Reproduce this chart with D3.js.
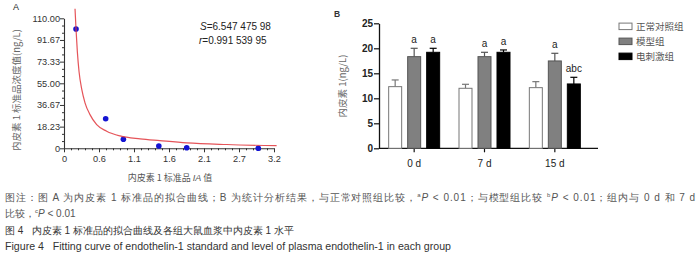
<!DOCTYPE html>
<html><head><meta charset="utf-8">
<script src="https://cdn.jsdelivr.net/npm/d3@7"></script>
<style>
body{margin:0;background:#fff;}
svg{display:block;}
text{font-family:"Liberation Sans",Arial,sans-serif;}
.cjk{font-family:"Noto Sans CJK SC","Liberation Sans",sans-serif;}
</style></head>
<body>
<svg id="c" width="700" height="258"></svg>
<script>
// ---------- Panel A data ----------
const stdX = [0.183, 0.635, 0.905, 1.445, 1.87, 2.96];
const stdY = [100.9, 25, 7.7, 2.0, 0.5, 0];
const fitX = [0.168, 0.183, 0.203, 0.229, 0.27, 0.32, 0.396, 0.498, 0.65, 0.854, 1.16, 1.46, 1.87, 2.48, 3.24];
const fitY = [118, 101, 82, 65, 50, 38.5, 28.5, 20, 14.5, 10.5, 8, 6.5, 4.6, 3.2, 2.2];
const aYTickLabels = ["0", "18.23", "36.67", "55.00", "73.33", "91.67", "110.00"];
const aXTickLabels = ["0", "0.6", "1.1", "1.6", "2.1", "2.7", "3.2"];
// ---------- Panel B data ----------
const days = ["0 d", "7 d", "15 d"];
const groups = ["正常对照组", "模型组", "电刺激组"];
const normalMean = [12.33, 12.0, 12.13];
const normalErr = [1.34, 0.8, 1.2];
const modelMean = [18.33, 18.33, 17.47];
const modelErr = [1.67, 0.87, 1.53];
const stimMean = [19.2, 19.2, 12.87];
const stimErr = [0.8, 0.47, 1.33];
const sigLabels = [["", "a", "a"], ["", "a", "a"], ["", "a", "abc"]];
const bYTicks = [0, 5, 10, 15, 20, 25];

const svg = d3.select("#c");
const axisColor = "#333";

// ================= Panel A =================
const xA = d3.scaleLinear().domain([0, 3.2]).range([64, 274]);
const yA = d3.scaleLinear().domain([0, 110]).range([148.3, 18.3]);
const gA = svg.append("g");

const yMajA = d3.range(7).map(i => i * 110 / 6);
const yMinA = d3.range(19).map(i => i * 110 / 18).filter((v, i) => i % 3 !== 0);
const xMajA = d3.range(7).map(i => i * 3.2 / 6);
const xMinA = d3.range(31).map(i => i * 3.2 / 30).filter((v, i) => i % 5 !== 0);

const yAxA = gA.append("g").attr("transform", "translate(64,0)")
  .call(d3.axisLeft(yA).tickValues(yMajA).tickSize(4).tickSizeOuter(0)
    .tickFormat((d, i) => aYTickLabels[i]));
gA.append("g").attr("transform", "translate(64,0)")
  .call(d3.axisLeft(yA).tickValues(yMinA).tickSize(2).tickFormat(""))
  .select(".domain").remove();
const xAxA = gA.append("g").attr("transform", "translate(0,148.3)")
  .call(d3.axisBottom(xA).tickValues(xMajA).tickSize(4).tickSizeOuter(0)
    .tickFormat((d, i) => aXTickLabels[i]));
gA.append("g").attr("transform", "translate(0,148.3)")
  .call(d3.axisBottom(xA).tickValues(xMinA).tickSize(2).tickFormat(""))
  .select(".domain").remove();
gA.selectAll(".domain").attr("stroke", axisColor).attr("stroke-width", 1.1);
gA.selectAll(".tick line").attr("stroke", axisColor);
gA.selectAll(".tick text").attr("font-size", 9.2).attr("fill", "#333")
  .attr("font-family", "Liberation Sans, Arial, sans-serif");
yAxA.selectAll(".tick text").attr("x", -4);
xAxA.selectAll(".tick text").attr("y", 7);

// points
gA.selectAll("circle.pt").data(stdX.map((x, i) => [x, stdY[i]])).join("circle")
  .attr("class", "pt").attr("cx", d => xA(d[0])).attr("cy", d => yA(d[1]))
  .attr("r", 2.8).attr("fill", "#1414d2");
// fitted curve
const fitData = fitX.map((x, i) => [x, fitY[i]]);
gA.append("path").datum(fitData)
  .attr("d", d3.line().x(d => xA(d[0])).y(d => yA(d[1])).curve(d3.curveMonotoneX))
  .attr("fill", "none").attr("stroke", "#e0363c").attr("stroke-width", 1.2)
  .attr("stroke-opacity", 0.85);

// stats text
const st1 = gA.append("text").attr("x", 200).attr("y", 30).attr("font-size", 10).attr("fill", "#222");
st1.append("tspan").attr("font-style", "italic").text("S");
st1.append("tspan").text("=6.547 475 98");
const st2 = gA.append("text").attr("x", 199).attr("y", 44).attr("font-size", 10).attr("fill", "#222");
st2.append("tspan").attr("font-style", "italic").text("r");
st2.append("tspan").text("=0.991 539 95");

gA.append("text").attr("x", 13).attr("y", 10).attr("font-size", 9).attr("fill", "#222").text("A");
gA.append("text").attr("class", "cjk")
  .attr("transform", "translate(20,90) rotate(-90)")
  .attr("text-anchor", "middle").attr("font-size", 9.5).attr("fill", "#666")
  .text("内皮素 1 标准品浓度值(ng/L)");
const xlA = gA.append("text").attr("class", "cjk").attr("x", 170).attr("y", 181)
  .attr("text-anchor", "middle").attr("font-size", 9).attr("fill", "#555");
xlA.append("tspan").text("内皮素 1 标准品 ");
xlA.append("tspan").attr("font-style", "italic").attr("font-family", "Liberation Sans, Arial").text("IA");
xlA.append("tspan").text(" 值");

// ================= Panel B =================
const gB = svg.append("g");
const x0 = d3.scaleBand().domain(days).range([379, 590]);
const x1 = d3.scaleBand().domain(groups).range([-28.5, 28.5]).paddingInner(0.316).paddingOuter(0.158);
const yB = d3.scaleLinear().domain([0, 25]).range([148.3, 23.3]);

const yAxB = gB.append("g").attr("transform", "translate(379,0)")
  .call(d3.axisLeft(yB).tickValues(bYTicks).tickSize(5).tickSizeOuter(0));
const xAxB = gB.append("g").attr("transform", "translate(0,148.3)")
  .call(d3.axisBottom(x0).tickSize(4).tickSizeOuter(0));
xAxB.select(".domain").attr("d", "M379,0H598");
gB.selectAll(".domain").attr("stroke", "#111").attr("stroke-width", 1.3);
gB.selectAll(".tick line").attr("stroke", "#111").attr("stroke-width", 1.2);
yAxB.selectAll(".tick text").attr("font-size", 10).attr("font-weight", "bold").attr("fill", "#222")
  .attr("font-family", "Liberation Sans, Arial, sans-serif").attr("x", -6);
xAxB.selectAll(".tick text").attr("font-size", 10).attr("fill", "#222")
  .attr("font-family", "Liberation Sans, Arial, sans-serif").attr("y", 12);

const means = [normalMean, modelMean, stimMean];
const errs = [normalErr, modelErr, stimErr];
const fills = ["#ffffff", "#808080", "#000000"];
const strokes = ["#777777", "#555555", "#000000"];
const barData = [];
days.forEach((d, di) => groups.forEach((g, gi) => {
  barData.push({day: d, group: g, gi, v: means[gi][di], e: errs[gi][di], sig: sigLabels[di][gi]});
}));
const bars = gB.selectAll("g.bar").data(barData).join("g").attr("class", "bar")
  .attr("transform", d => `translate(${x0(d.day) + x0.bandwidth() / 2 + x1(d.group)},0)`);
const bw = x1.bandwidth();
// error bars
bars.append("line").attr("x1", bw / 2).attr("x2", bw / 2)
  .attr("y1", d => yB(d.v)).attr("y2", d => yB(d.v + d.e))
  .attr("stroke", d => strokes[d.gi]).attr("stroke-width", 1.2);
bars.append("line").attr("x1", bw / 2 - 3.5).attr("x2", bw / 2 + 3.5)
  .attr("y1", d => yB(d.v + d.e)).attr("y2", d => yB(d.v + d.e))
  .attr("stroke", d => strokes[d.gi]).attr("stroke-width", 1.2);
bars.append("rect").attr("x", 0).attr("width", bw)
  .attr("y", d => yB(d.v)).attr("height", d => yB(0) - yB(d.v))
  .attr("fill", d => fills[d.gi]).attr("stroke", d => strokes[d.gi]).attr("stroke-width", 1);
bars.append("text").attr("x", bw / 2).attr("y", d => yB(d.v + d.e) - 5)
  .attr("text-anchor", "middle").attr("font-size", 10).attr("fill", "#222")
  .text(d => d.sig);

gB.append("text").attr("x", 334).attr("y", 17).attr("font-size", 8.5).attr("font-weight", "bold").attr("fill", "#333").text("B");
gB.append("text").attr("class", "cjk")
  .attr("transform", "translate(346,86) rotate(-90)")
  .attr("text-anchor", "middle").attr("font-size", 9.5).attr("fill", "#666")
  .text("内皮素 1(ng/L)");

// legend
const leg = gB.selectAll("g.leg").data(groups).join("g").attr("class", "leg")
  .attr("transform", (d, i) => `translate(619,${26.3 + i * 15})`);
leg.append("rect").attr("x", 0).attr("y", -3.2).attr("width", 13).attr("height", 6.5)
  .attr("fill", (d, i) => fills[i]).attr("stroke", (d, i) => strokes[i]).attr("stroke-width", 1);
leg.append("text").attr("class", "cjk").attr("x", 17).attr("y", 3.5)
  .attr("font-size", 9.5).attr("fill", "#555").text(d => d);

// ================= Caption =================
const cap = svg.append("g").attr("class", "cjk");
const l1 = cap.append("text").attr("x", 5).attr("y", 201).attr("font-size", 10).attr("fill", "#555")
  .attr("textLength", 690).attr("lengthAdjust", "spacing");
l1.append("tspan").text("图注：图 A 为内皮素 1 标准品的拟合曲线；B 为统计分析结果，与正常对照组比较，");
l1.append("tspan").attr("font-size", 6).attr("dy", -4).text("a");
l1.append("tspan").attr("font-style", "italic").attr("dy", 4).text("P");
l1.append("tspan").text(" < 0.01；与模型组比较 ");
l1.append("tspan").attr("font-size", 6).attr("dy", -4).text("b");
l1.append("tspan").attr("font-style", "italic").attr("dy", 4).text("P");
l1.append("tspan").text(" < 0.01；组内与 0 d 和 7 d");
const l2 = cap.append("text").attr("x", 5).attr("y", 217).attr("font-size", 10).attr("fill", "#555");
l2.append("tspan").text("比较，");
l2.append("tspan").attr("font-size", 6).attr("dy", -4).text("c");
l2.append("tspan").attr("font-style", "italic").attr("dy", 4).text("P");
l2.append("tspan").text(" < 0.01");
cap.append("text").attr("x", 5).attr("y", 234).attr("font-size", 10).attr("fill", "#333")
  .attr("xml:space", "preserve").text("图 4   内皮素 1 标准品的拟合曲线及各组大鼠血浆中内皮素 1 水平");
cap.append("text").attr("x", 5).attr("y", 250).attr("font-size", 10).attr("fill", "#333")
  .attr("font-family", "Liberation Sans, Arial, sans-serif").attr("textLength", 446).attr("lengthAdjust", "spacingAndGlyphs")
  .attr("xml:space", "preserve").text("Figure 4   Fitting curve of endothelin-1 standard and level of plasma endothelin-1 in each group");
</script>
</body></html>
